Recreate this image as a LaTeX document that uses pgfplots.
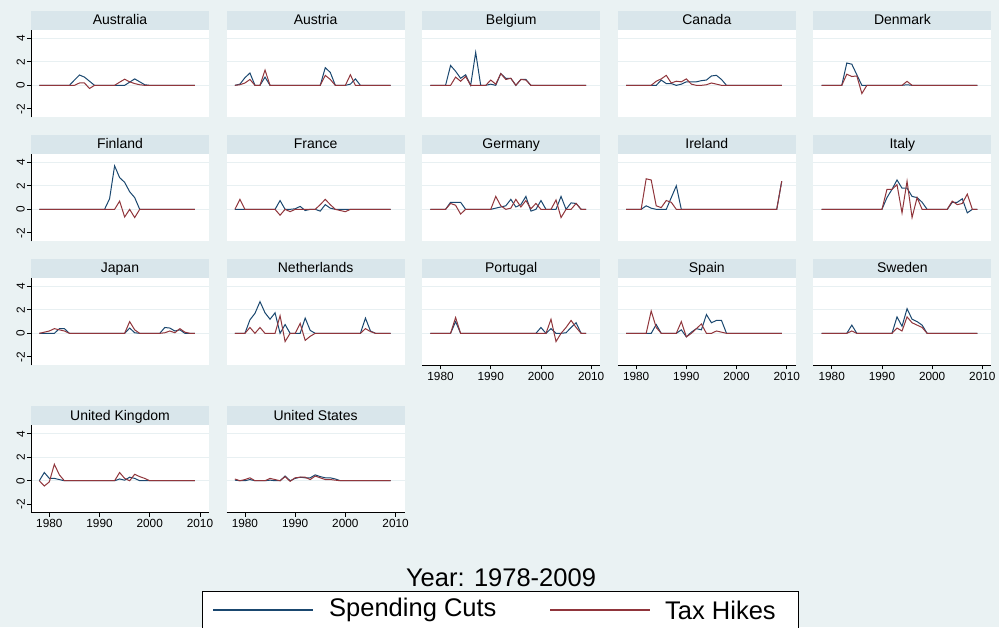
\documentclass[border=0pt]{standalone}
\usepackage{pgfplots}
\pgfplotsset{compat=1.18}
\usepackage{fontspec}
\setmainfont{Liberation Sans}
\definecolor{bgc}{RGB}{234,242,243}
\definecolor{barc}{RGB}{217,230,235}
\definecolor{gridc}{RGB}{232,240,242}
\definecolor{scc}{RGB}{26,71,111}
\definecolor{thc}{RGB}{144,53,59}
\newcommand\titlefont{\fontsize{14}{15}\selectfont}
\newcommand\tickfont{\fontsize{11.8}{12}\selectfont}
\newcommand\bigfont{\fontsize{25.5}{28}\selectfont}
\pgfplotsset{
  panel/.style={
    width=178pt, height=87.3pt, scale only axis, anchor=north west,
    xmin=1976.35, xmax=2011.8, ymin=-2.72, ymax=4.71,
    axis x line*=bottom, axis y line*=left,
    x axis line style={draw=none,-},
    y axis line style={draw=none,-},
    tick align=outside, major tick length=4pt,
    ytick={0,2,4}, yticklabels={}, ymajorgrids,
    grid style={gridc, line width=1pt},
    ytick style={draw=none},
    xtick=\empty,
    axis background/.style={fill=white},
  },
  leftcol/.style={
    y axis line style={draw=black, line width=0.7pt},
    ytick style={draw=black, line width=0.7pt},
    yticklabels={0,2,4},
    extra y ticks={-2}, extra y tick labels={-2},
    extra y tick style={grid=none, ytick style={draw=black, line width=0.7pt}},
    yticklabel style={rotate=90, anchor=south, font=\tickfont, inner sep=2pt},
  },
  bottomrow/.style={
    x axis line style={draw=black, line width=0.7pt},
    xtick={1980,1990,2000,2010},
    xticklabels={1980,1990,2000,2010},
    xtick style={draw=black, line width=0.7pt},
    xticklabel style={font=\tickfont, inner sep=2.5pt},
  },
  scl/.style={scc, line width=1pt},
  thl/.style={thc, line width=1pt},
}
\newcommand{\panel}[6]{%
\begin{axis}[panel, at={(#1pt,-#2pt)}, #3]
\addplot[scl] table[x expr=\coordindex+1978,y index=0,header=false,row sep=\\]{#4};
\addplot[thl] table[x expr=\coordindex+1978,y index=0,header=false,row sep=\\]{#5};
\end{axis}
\node[fill=barc, minimum width=178pt, minimum height=19pt, inner sep=0pt, text height=11pt, text depth=2pt, anchor=south, font=\titlefont] at ({#1+89},{-#2}) {#6};
}
\begin{document}
\begin{tikzpicture}[x=1pt,y=1pt]
\useasboundingbox (0,0) rectangle (999,-627);
\clip (0,0) rectangle (999,-627);
\fill[bgc] (0,0) rectangle (999,-627);
% Row 1
\panel{31}{30}{leftcol}
{0\\0\\0\\0\\0\\0\\0\\0.45\\0.88\\0.7\\ 0.35\\0\\0\\0\\0\\0\\0\\0\\0.27\\0.55\\ 0.3\\0.05\\0\\0\\0\\0\\0\\0\\0\\0\\ 0\\0\\}
{0\\0\\0\\0\\0\\0\\0\\0\\0.2\\0.2\\ -0.27\\0\\0\\0\\0\\0\\0.27\\0.52\\0.3\\0.15\\ 0.05\\0\\0\\0\\0\\0\\0\\0\\0\\0\\ 0\\0\\}
{Australia}
\panel{226.6}{30}{}
{0\\0.1\\0.65\\1.05\\0\\0\\0.7\\0\\0\\0\\ 0\\0\\0\\0\\0\\0\\0\\0\\1.5\\1.1\\ 0\\0\\0\\0.1\\0.55\\0\\0\\0\\0\\0\\ 0\\0\\}
{0\\0.05\\0.2\\0.5\\0\\0\\1.3\\0\\0\\0\\ 0\\0\\0\\0\\0\\0\\0\\0\\0.85\\0.5\\ 0\\0\\0\\0.9\\0\\0\\0\\0\\0\\0\\ 0\\0\\}
{Austria}
\panel{422.2}{30}{}
{0\\0\\0\\0\\1.69\\1.2\\0.6\\0.9\\0\\2.8\\ 0\\0\\0.1\\0\\1.0\\0.6\\0.6\\0\\0.5\\0.5\\ 0\\0\\0\\0\\0\\0\\0\\0\\0\\0\\ 0\\0\\}
{0\\0\\0\\0\\0\\0.7\\0.35\\0.75\\0\\0\\ 0\\0\\0.45\\0.1\\1.0\\0.5\\0.6\\0\\0.5\\0.45\\ 0\\0\\0\\0\\0\\0\\0\\0\\0\\0\\ 0\\0\\}
{Belgium}
\panel{617.8}{30}{}
{0\\0\\0\\0\\0\\0\\0\\0.45\\0.15\\0.15\\ 0\\0.1\\0.3\\0.3\\0.3\\0.4\\0.45\\0.8\\0.85\\0.5\\ 0\\0\\0\\0\\0\\0\\0\\0\\0\\0\\ 0\\0\\}
{0\\0\\0\\0\\0\\0\\0.35\\0.55\\0.85\\0.2\\ 0.35\\0.3\\0.55\\0.1\\0\\0\\0.05\\0.2\\0.1\\0\\ 0\\0\\0\\0\\0\\0\\0\\0\\0\\0\\ 0\\0\\}
{Canada}
\panel{813.4}{30}{}
{0\\0\\0\\0\\0\\1.9\\1.8\\0.9\\0\\0\\ 0\\0\\0\\0\\0\\0\\0\\0.05\\0\\0\\ 0\\0\\0\\0\\0\\0\\0\\0\\0\\0\\ 0\\0\\}
{0\\0\\0\\0\\0\\0.95\\0.75\\0.8\\-0.7\\0\\ 0\\0\\0\\0\\0\\0\\0\\0.34\\0\\0\\ 0\\0\\0\\0\\0\\0\\0\\0\\0\\0\\ 0\\0\\}
{Denmark}
% Row 2
\panel{31}{154}{leftcol}
{0\\0\\0\\0\\0\\0\\0\\0\\0\\0\\ 0\\0\\0\\0\\0.9\\3.7\\2.7\\2.3\\1.5\\1.0\\ 0\\0\\0\\0\\0\\0\\0\\0\\0\\0\\ 0\\0\\}
{0\\0\\0\\0\\0\\0\\0\\0\\0\\0\\ 0\\0\\0\\0\\0\\0\\0.7\\-0.65\\0\\-0.7\\ 0\\0\\0\\0\\0\\0\\0\\0\\0\\0\\ 0\\0\\}
{Finland}
\panel{226.6}{154}{}
{0\\0\\0\\0\\0\\0\\0\\0\\0\\0.75\\ 0\\0\\0.05\\0.25\\-0.1\\0\\0\\-0.15\\0.4\\0.1\\ 0\\0\\0\\0\\0\\0\\0\\0\\0\\0\\ 0\\0\\}
{0\\0.85\\0\\0\\0\\0\\0\\0\\0\\-0.5\\ 0\\-0.2\\0\\0\\0\\0\\0\\0.4\\0.85\\0.4\\ 0\\-0.1\\-0.2\\0\\0\\0\\0\\0\\0\\0\\ 0\\0\\}
{France}
\panel{422.2}{154}{}
{0\\0\\0\\0\\0.6\\0.6\\0.6\\0\\0\\0\\ 0\\0\\0\\0.1\\0.2\\0.3\\0.85\\0.2\\0.4\\1.1\\ -0.15\\0\\0.75\\0\\0\\0\\1.1\\0\\0.55\\0.5\\ 0\\0\\}
{0\\0\\0\\0\\0.5\\0.35\\-0.4\\0\\0\\0\\ 0\\0\\0\\1.1\\0.3\\0\\0.1\\0.85\\0.2\\0.75\\ 0.05\\0.5\\0\\0\\0\\0.8\\-0.7\\0\\0\\0.5\\ 0\\0\\}
{Germany}
\panel{617.8}{154}{}
{0\\0\\0\\0\\0.3\\0.1\\0\\0\\0\\1.0\\ 2.0\\0\\0\\0\\0\\0\\0\\0\\0\\0\\ 0\\0\\0\\0\\0\\0\\0\\0\\0\\0\\ 0\\2.4\\}
{0\\0\\0\\0\\2.6\\2.5\\0.3\\0.15\\0.75\\0.6\\ 0\\0\\0\\0\\0\\0\\0\\0\\0\\0\\ 0\\0\\0\\0\\0\\0\\0\\0\\0\\0\\ 0\\2.4\\}
{Ireland}
\panel{813.4}{154}{}
{0\\0\\0\\0\\0\\0\\0\\0\\0\\0\\ 0\\0\\0\\1.0\\1.7\\2.5\\1.8\\1.8\\1.1\\1.0\\ 0.6\\0\\0\\0\\0\\0\\0.6\\0.6\\0.9\\-0.3\\ 0\\0\\}
{0\\0\\0\\0\\0\\0\\0\\0\\0\\0\\ 0\\0\\0\\1.7\\1.7\\2.1\\-0.3\\2.4\\-0.7\\1.0\\ 0\\0\\0\\0\\0\\0\\0.7\\0.4\\0.5\\1.3\\ 0\\0\\}
{Italy}
% Row 3
\panel{31}{278}{leftcol}
{0\\0\\0\\0\\0.4\\0.4\\0\\0\\0\\0\\ 0\\0\\0\\0\\0\\0\\0\\0\\0.45\\0.05\\ 0\\0\\0\\0\\0\\0.5\\0.45\\0.2\\0.3\\0\\ 0\\0\\}
{0\\0.1\\0.2\\0.4\\0.3\\0.2\\0\\0\\0\\0\\ 0\\0\\0\\0\\0\\0\\0\\0\\1.0\\0.3\\ 0\\0\\0\\0\\0\\0.05\\0.2\\0.05\\0.4\\0.1\\ 0\\0\\}
{Japan}
\panel{226.6}{278}{}
{0\\0\\0\\1.15\\1.7\\2.7\\1.75\\1.2\\1.75\\0\\ 0.75\\0\\0\\0\\1.3\\0.25\\0\\0\\0\\0\\ 0\\0\\0\\0\\0\\0\\1.3\\0.2\\0\\0\\ 0\\0\\}
{0\\0\\0\\0.5\\0\\0.5\\0\\0\\0\\1.5\\ -0.7\\0\\0\\0.85\\-0.6\\-0.25\\0\\0\\0\\0\\ 0\\0\\0\\0\\0\\0\\0.4\\0.15\\0\\0\\ 0\\0\\}
{Netherlands}
\panel{422.2}{278}{bottomrow}
{0\\0\\0\\0\\0\\1.0\\0\\0\\0\\0\\ 0\\0\\0\\0\\0\\0\\0\\0\\0\\0\\ 0\\0\\0.5\\0\\0.4\\0\\0\\0.05\\0.5\\0.9\\ 0\\0\\}
{0\\0\\0\\0\\0\\1.35\\0\\0\\0\\0\\ 0\\0\\0\\0\\0\\0\\0\\0\\0\\0\\ 0\\0\\0\\0\\1.2\\-0.7\\0\\0.5\\1.1\\0.5\\ 0\\0\\}
{Portugal}
\panel{617.8}{278}{bottomrow}
{0\\0\\0\\0\\0\\0\\0.75\\0\\0\\0\\ 0\\0.3\\-0.3\\0.1\\0.4\\0.3\\1.6\\0.9\\1.1\\1.1\\ 0\\0\\0\\0\\0\\0\\0\\0\\0\\0\\ 0\\0\\}
{0\\0\\0\\0\\0\\1.9\\0.5\\0\\0\\0\\ 0\\1.0\\-0.3\\0\\0.4\\0.8\\0\\0\\0.2\\0.1\\ 0\\0\\0\\0\\0\\0\\0\\0\\0\\0\\ 0\\0\\}
{Spain}
\panel{813.4}{278}{bottomrow}
{0\\0\\0\\0\\0\\0\\0.7\\0\\0\\0\\ 0\\0\\0\\0\\0\\1.4\\0.6\\2.1\\1.2\\1.0\\ 0.7\\0\\0\\0\\0\\0\\0\\0\\0\\0\\ 0\\0\\}
{0\\0\\0\\0\\0\\0\\0.2\\0\\0\\0\\ 0\\0\\0\\0\\0\\0.45\\0.2\\1.4\\0.9\\0.7\\ 0.5\\0\\0\\0\\0\\0\\0\\0\\0\\0\\ 0\\0\\}
{Sweden}
% Row 4
\panel{31}{425.4}{leftcol,bottomrow}
{0\\0.7\\0.2\\0.2\\0.1\\0\\0\\0\\0\\0\\ 0\\0\\0\\0\\0\\0\\0.15\\0.05\\0.3\\0.2\\ 0\\0\\0\\0\\0\\0\\0\\0\\0\\0\\ 0\\0\\}
{0\\-0.45\\-0.1\\1.4\\0.5\\0\\0\\0\\0\\0\\ 0\\0\\0\\0\\0\\0\\0.7\\0.2\\0\\0.55\\ 0.35\\0.2\\0\\0\\0\\0\\0\\0\\0\\0\\ 0\\0\\}
{United Kingdom}
\panel{226.6}{425.4}{bottomrow}
{0.05\\0\\0\\0.1\\0\\0\\0\\0.05\\0\\0\\ 0.4\\0\\0.2\\0.3\\0.25\\0.25\\0.5\\0.35\\0.25\\0.25\\ 0.15\\0\\0\\0\\0\\0\\0\\0\\0\\0\\ 0\\0\\}
{0.15\\0\\0.1\\0.25\\0\\0\\0\\0.2\\0.1\\0\\ 0.35\\-0.05\\0.25\\0.3\\0.3\\0.1\\0.4\\0.25\\0.1\\0.1\\ 0.05\\0\\0\\0\\0\\0\\0\\0\\0\\0\\ 0\\0\\}
{United States}
% x title
\node[font=\bigfont] at (501,-578) {Year: 1978-2009};
% legend
\draw[fill=white, line width=0.8pt] (202,-591) rectangle (798,-640);
\draw[scc, line width=1.6pt] (213,-610) -- (313,-610);
\node[anchor=west, font=\bigfont, inner sep=0pt] at (329,-610) {Spending Cuts};
\draw[thc, line width=1.6pt] (550,-610) -- (650,-610);
\node[anchor=west, font=\bigfont, inner sep=0pt] at (665,-610) {Tax Hikes};
\end{tikzpicture}
\end{document}
